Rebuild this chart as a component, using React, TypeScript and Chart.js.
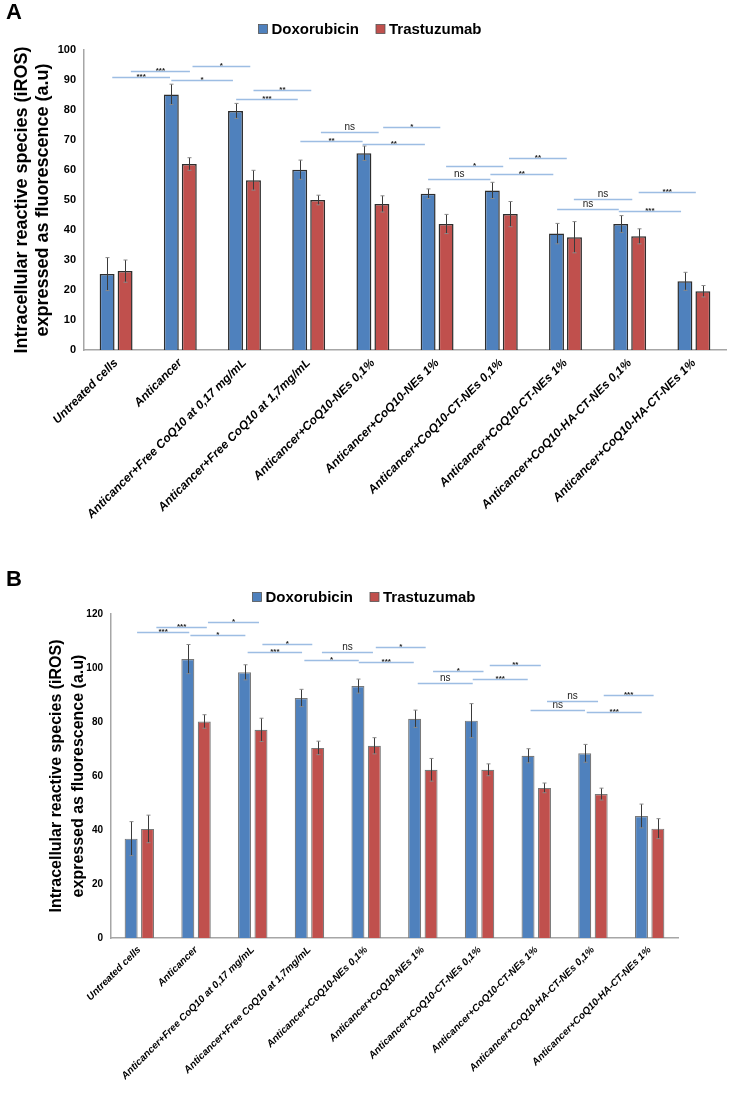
import React, { useEffect, useRef } from "react";
import { Chart, registerables } from "chart.js";

Chart.register(...registerables);

const categories = [
  "Untreated cells",
  "Anticancer",
  "Anticancer+Free CoQ10 at 0,17 mg/mL",
  "Anticancer+Free CoQ10 at 1,7mg/mL",
  "Anticancer+CoQ10-NEs 0,1%",
  "Anticancer+CoQ10-NEs 1%",
  "Anticancer+CoQ10-CT-NEs 0,1%",
  "Anticancer+CoQ10-CT-NEs 1%",
  "Anticancer+CoQ10-HA-CT-NEs 0,1%",
  "Anticancer+CoQ10-HA-CT-NEs 1%",
];
const seriesNames = ["Doxorubicin", "Trastuzumab"];
const yTitle = ["Intracellular reactive species (iROS)", "expressed as fluorescence (a.u)"];

// Panel A
const doxA = [25.3, 85.2, 79.7, 60.1, 65.6, 52.1, 53.2, 38.8, 42.0, 22.9];
const doxErrA = [5.5, 3.4, 2.5, 3.2, 2.4, 1.6, 2.7, 3.4, 2.8, 3.0];
const trasA = [26.3, 62.0, 56.6, 50.0, 48.7, 42.0, 45.3, 37.6, 37.9, 19.6];
const trasErrA = [3.7, 2.1, 3.3, 1.6, 2.7, 3.2, 4.2, 5.2, 2.5, 1.9];
// [from category, to category, y value, label]
const sigA: [number, number, number, string][] = [
  [-0.06, 0.84, 90.9, "***"],
  [0.23, 1.15, 93.1, "***"],
  [0.86, 1.82, 90.0, "*"],
  [1.19, 2.09, 94.7, "*"],
  [1.87, 2.83, 83.6, "***"],
  [2.14, 3.04, 86.7, "**"],
  [2.87, 3.84, 69.6, "**"],
  [3.19, 4.09, 72.6, "ns"],
  [3.84, 4.81, 68.7, "**"],
  [4.16, 5.05, 74.4, "*"],
  [4.86, 5.83, 56.9, "ns"],
  [5.14, 6.03, 61.4, "*"],
  [5.83, 6.81, 58.7, "**"],
  [6.12, 7.02, 63.9, "**"],
  [6.87, 7.83, 46.9, "ns"],
  [7.13, 8.04, 50.2, "ns"],
  [7.83, 8.8, 46.3, "***"],
  [8.14, 9.03, 52.6, "***"],
];

// Panel B
const doxB = [36.8, 103.3, 98.4, 88.9, 93.3, 81.2, 80.5, 67.5, 68.4, 45.2];
const doxErrB = [6.3, 5.4, 2.8, 3.2, 2.6, 3.2, 6.3, 2.6, 3.3, 4.4];
const trasB = [40.4, 80.2, 77.1, 70.4, 71.2, 62.3, 62.3, 55.6, 53.3, 40.5];
const trasErrB = [5.1, 2.5, 4.3, 2.5, 3.0, 4.2, 2.2, 1.8, 2.2, 3.7];
const sigB: [number, number, number, string][] = [
  [-0.04, 0.88, 113.2, "***"],
  [0.3, 1.19, 115.2, "***"],
  [0.9, 1.87, 112.1, "*"],
  [1.21, 2.11, 116.9, "*"],
  [1.91, 2.87, 106.0, "***"],
  [2.17, 3.05, 109.0, "*"],
  [2.91, 3.87, 103.0, "*"],
  [3.22, 4.12, 106.0, "ns"],
  [3.87, 4.84, 102.2, "***"],
  [4.17, 5.05, 107.8, "*"],
  [4.91, 5.88, 94.4, "ns"],
  [5.18, 6.07, 99.0, "*"],
  [5.88, 6.85, 96.0, "***"],
  [6.18, 7.08, 101.1, "**"],
  [6.9, 7.86, 84.6, "ns"],
  [7.19, 8.09, 87.6, "ns"],
  [7.89, 8.86, 83.7, "***"],
  [8.19, 9.07, 89.9, "***"],
];

const BLUE = "#4f81bd";
const RED = "#c0504d";
const FONT = '"Liberation Sans", Arial, sans-serif';

type PanelCfg = {
  letter: string;
  dox: number[];
  doxErr: number[];
  tras: number[];
  trasErr: number[];
  sig: [number, number, number, string][];
  yMax: number;
  yStep: number;
  height: number;
  padTop: number;
  padRight: number;
  yAxisWidth: number;
  xAxisHeight: number;
  tickSize: number;
  xSize: number;
  titleSize: number;
  titleLH: number;
  titlePad: number;
  barPct: number;
  catPct: number;
  borderColor: string;
  borderWidth: number;
  legendCX: number;
  legendY: number;
  legendSize: number;
  letterY: number;
};

const panelA: PanelCfg = {
  letter: "A",
  dox: doxA,
  doxErr: doxErrA,
  tras: trasA,
  trasErr: trasErrA,
  sig: sigA,
  yMax: 100,
  yStep: 10,
  height: 560,
  padTop: 50,
  padRight: 12,
  yAxisWidth: 84,
  xAxisHeight: 210,
  tickSize: 11,
  xSize: 12,
  titleSize: 18,
  titleLH: 1.15,
  titlePad: 12,
  barPct: 0.83,
  catPct: 0.56,
  borderColor: "#2e2e2e",
  borderWidth: 1.5,
  legendCX: 370,
  legendY: 29,
  legendSize: 15,
  letterY: 19,
};

const panelB: PanelCfg = {
  letter: "B",
  dox: doxB,
  doxErr: doxErrB,
  tras: trasB,
  trasErr: trasErrB,
  sig: sigB,
  yMax: 120,
  yStep: 20,
  height: 534,
  padTop: 54,
  padRight: 60,
  yAxisWidth: 111,
  xAxisHeight: 156,
  tickSize: 10,
  xSize: 10,
  titleSize: 16,
  titleLH: 1.4,
  titlePad: 45,
  barPct: 0.79,
  catPct: 0.58,
  borderColor: "#7a7a7a",
  borderWidth: 1.2,
  legendCX: 364,
  legendY: 37,
  legendSize: 15,
  letterY: 26,
};

function PanelChart({ cfg, top }: { cfg: PanelCfg; top: number }) {
  const ref = useRef<HTMLCanvasElement | null>(null);

  useEffect(() => {
    const canvas = ref.current;
    if (!canvas) return;
    const errs = [cfg.doxErr, cfg.trasErr];

    const errorBars = {
      id: "errorBars",
      afterDatasetsDraw(chart: any) {
        const ctx = chart.ctx;
        const ys = chart.scales.y;
        ctx.save();
        chart.data.datasets.forEach((ds: any, di: number) => {
          const meta = chart.getDatasetMeta(di);
          meta.data.forEach((bar: any, i: number) => {
            const v = ds.data[i];
            const e = errs[di][i];
            const x = Math.round(bar.x) + 0.5;
            const y1 = ys.getPixelForValue(v + e);
            const y2 = ys.getPixelForValue(v - e);
            ctx.strokeStyle = "#3a3a3a";
            ctx.lineWidth = 1;
            ctx.beginPath();
            ctx.moveTo(x, y1);
            ctx.lineTo(x, y2);
            ctx.stroke();
            ctx.strokeStyle = "#8a8a8a";
            ctx.beginPath();
            ctx.moveTo(x - 2, y1);
            ctx.lineTo(x + 2, y1);
            ctx.moveTo(x - 2, y2);
            ctx.lineTo(x + 2, y2);
            ctx.stroke();
          });
        });
        ctx.restore();
      },
    };

    const extras = {
      id: "extras",
      afterDraw(chart: any) {
        const ctx = chart.ctx;
        const xs = chart.scales.x;
        const ys = chart.scales.y;
        const p0 = xs.getPixelForValue(0);
        const step = xs.getPixelForValue(1) - p0;
        const cx = (c: number) => p0 + c * step;
        ctx.save();
        // significance brackets
        cfg.sig.forEach(([a, b, v, lab]) => {
          const y = Math.round(ys.getPixelForValue(v)) + 0.5;
          ctx.strokeStyle = "#9dbde3";
          ctx.lineWidth = 1.5;
          ctx.beginPath();
          ctx.moveTo(cx(a), y);
          ctx.lineTo(cx(b), y);
          ctx.stroke();
          ctx.fillStyle = "#222";
          ctx.textAlign = "center";
          ctx.textBaseline = "alphabetic";
          if (lab === "ns") {
            ctx.font = `10px ${FONT}`;
            ctx.fillText(lab, (cx(a) + cx(b)) / 2, y - 3);
          } else {
            ctx.font = `bold 8px ${FONT}`;
            ctx.fillText(lab, (cx(a) + cx(b)) / 2, y + 1);
          }
        });
        // legend
        ctx.font = `bold ${cfg.legendSize}px ${FONT}`;
        ctx.textBaseline = "middle";
        ctx.textAlign = "left";
        const box = 9;
        const gap = 4;
        const itemGap = 17;
        const widths = seriesNames.map((s) => ctx.measureText(s).width);
        const total = widths.reduce((s, w) => s + box + gap + w, 0) + itemGap;
        let lx = cfg.legendCX - total / 2;
        [BLUE, RED].forEach((col, i) => {
          ctx.fillStyle = col;
          ctx.fillRect(lx, cfg.legendY - box / 2, box, box);
          ctx.strokeStyle = "#555";
          ctx.lineWidth = 0.8;
          ctx.strokeRect(lx, cfg.legendY - box / 2, box, box);
          ctx.fillStyle = "#000";
          ctx.fillText(seriesNames[i], lx + box + gap, cfg.legendY + 1);
          lx += box + gap + widths[i] + itemGap;
        });
        // panel letter
        ctx.font = `bold 22px ${FONT}`;
        ctx.textBaseline = "alphabetic";
        ctx.fillStyle = "#000";
        ctx.fillText(cfg.letter, 6, cfg.letterY);
        ctx.restore();
      },
    };

    const chart = new Chart(canvas, {
      type: "bar",
      data: {
        labels: categories,
        datasets: [
          {
            label: seriesNames[0],
            data: cfg.dox,
            backgroundColor: BLUE,
            borderColor: cfg.borderColor,
            borderWidth: cfg.borderWidth,
            barPercentage: cfg.barPct,
            categoryPercentage: cfg.catPct,
          },
          {
            label: seriesNames[1],
            data: cfg.tras,
            backgroundColor: RED,
            borderColor: cfg.borderColor,
            borderWidth: cfg.borderWidth,
            barPercentage: cfg.barPct,
            categoryPercentage: cfg.catPct,
          },
        ],
      },
      options: {
        animation: false,
        responsive: false,
        devicePixelRatio: 1,
        layout: { padding: { top: cfg.padTop, right: cfg.padRight, left: 0, bottom: 0 } },
        plugins: { legend: { display: false }, tooltip: { enabled: false }, title: { display: false } },
        scales: {
          x: {
            grid: { display: false, drawTicks: false },
            border: { display: true, color: "#a6a6a6", width: 1.5 },
            ticks: {
              autoSkip: false,
              maxRotation: 45,
              minRotation: 45,
              padding: 6,
              color: "#000",
              font: { family: FONT, size: cfg.xSize, weight: "bold", style: "italic" },
            },
            afterFit(scale: any) {
              scale.height = cfg.xAxisHeight;
            },
          },
          y: {
            min: 0,
            max: cfg.yMax,
            grid: { display: false, drawTicks: false },
            border: { display: true, color: "#a6a6a6", width: 1.5 },
            ticks: {
              stepSize: cfg.yStep,
              padding: 8,
              color: "#000",
              font: { family: FONT, size: cfg.tickSize, weight: "bold" },
            },
            title: {
              display: true,
              text: yTitle,
              color: "#000",
              padding: { top: cfg.titlePad, bottom: 0 },
              font: { family: FONT, size: cfg.titleSize, weight: "bold", lineHeight: cfg.titleLH },
            },
            afterFit(scale: any) {
              scale.width = cfg.yAxisWidth;
            },
          },
        },
      } as any,
      plugins: [errorBars, extras],
    });
    return () => chart.destroy();
  }, [cfg]);

  return (
    <canvas
      ref={ref}
      width={738}
      height={cfg.height}
      style={{ position: "absolute", left: 0, top, width: 738, height: cfg.height }}
    />
  );
}

export default function App() {
  return (
    <div style={{ position: "absolute", left: 0, top: 0, width: 738, height: 1094, background: "#fff" }}>
      <PanelChart cfg={panelA} top={0} />
      <PanelChart cfg={panelB} top={560} />
    </div>
  );
}
